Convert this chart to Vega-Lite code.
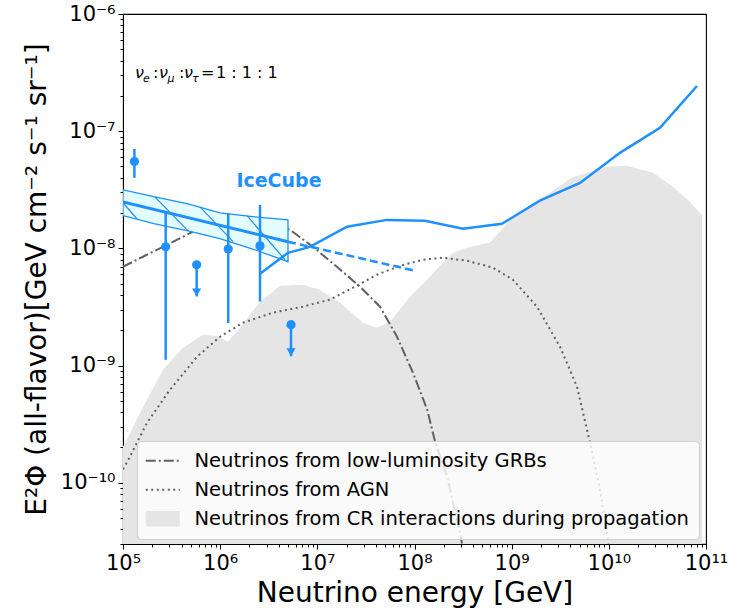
{
  "$schema": "https://vega.github.io/schema/vega-lite/v6.json",
  "width": 583,
  "height": 530,
  "autosize": {"type": "none"},
  "padding": {"left": 123, "top": 14, "right": 24, "bottom": 69},
  "background": "white",
  "config": {
    "font": "DejaVu Sans",
    "view": {"stroke": "#000000", "strokeWidth": 1.1},
    "axis": {"labelFont": "DejaVu Sans", "titleFont": "DejaVu Sans", "domainColor": "#000000", "tickColor": "#000000", "labelColor": "#000000", "titleColor": "#000000", "grid": false}
  },
  "datasets": {
    "cr": [
      {"e": 1e5, "f": 2.04e-10, "series": "Neutrinos from CR interactions during propagation"},
      {"e": 1.10e5, "f": 2.33e-10, "series": "Neutrinos from CR interactions during propagation"},
      {"e": 1.50e5, "f": 3.96e-10, "series": "Neutrinos from CR interactions during propagation"},
      {"e": 2.58e5, "f": 9.2e-10, "series": "Neutrinos from CR interactions during propagation"},
      {"e": 4.14e5, "f": 1.42e-9, "series": "Neutrinos from CR interactions during propagation"},
      {"e": 6.65e5, "f": 1.83e-9, "series": "Neutrinos from CR interactions during propagation"},
      {"e": 9.27e5, "f": 1.80e-9, "series": "Neutrinos from CR interactions during propagation"},
      {"e": 1.20e6, "f": 1.60e-9, "series": "Neutrinos from CR interactions during propagation"},
      {"e": 1.60e6, "f": 2.10e-9, "series": "Neutrinos from CR interactions during propagation"},
      {"e": 2.57e6, "f": 3.51e-9, "series": "Neutrinos from CR interactions during propagation"},
      {"e": 4.13e6, "f": 4.80e-9, "series": "Neutrinos from CR interactions during propagation"},
      {"e": 7.11e6, "f": 4.89e-9, "series": "Neutrinos from CR interactions during propagation"},
      {"e": 1.06e7, "f": 4.44e-9, "series": "Neutrinos from CR interactions during propagation"},
      {"e": 1.71e7, "f": 3.44e-9, "series": "Neutrinos from CR interactions during propagation"},
      {"e": 2.95e7, "f": 2.32e-9, "series": "Neutrinos from CR interactions during propagation"},
      {"e": 4.11e7, "f": 2.10e-9, "series": "Neutrinos from CR interactions during propagation"},
      {"e": 5.60e7, "f": 2.37e-9, "series": "Neutrinos from CR interactions during propagation"},
      {"e": 9.0e7, "f": 3.86e-9, "series": "Neutrinos from CR interactions during propagation"},
      {"e": 1.35e8, "f": 5.40e-9, "series": "Neutrinos from CR interactions during propagation"},
      {"e": 1.83e8, "f": 7.11e-9, "series": "Neutrinos from CR interactions during propagation"},
      {"e": 2.49e8, "f": 9.17e-9, "series": "Neutrinos from CR interactions during propagation"},
      {"e": 3.47e8, "f": 1.01e-8, "series": "Neutrinos from CR interactions during propagation"},
      {"e": 5.98e8, "f": 1.12e-8, "series": "Neutrinos from CR interactions during propagation"},
      {"e": 7.59e8, "f": 1.39e-8, "series": "Neutrinos from CR interactions during propagation"},
      {"e": 9.62e8, "f": 1.75e-8, "series": "Neutrinos from CR interactions during propagation"},
      {"e": 1.95e9, "f": 2.60e-8, "series": "Neutrinos from CR interactions during propagation"},
      {"e": 4.28e9, "f": 4.07e-8, "series": "Neutrinos from CR interactions during propagation"},
      {"e": 9.57e9, "f": 4.96e-8, "series": "Neutrinos from CR interactions during propagation"},
      {"e": 1.54e10, "f": 5.06e-8, "series": "Neutrinos from CR interactions during propagation"},
      {"e": 2.84e10, "f": 4.41e-8, "series": "Neutrinos from CR interactions during propagation"},
      {"e": 4.57e10, "f": 3.35e-8, "series": "Neutrinos from CR interactions during propagation"},
      {"e": 6.84e10, "f": 2.49e-8, "series": "Neutrinos from CR interactions during propagation"},
      {"e": 9.10e10, "f": 1.93e-8, "series": "Neutrinos from CR interactions during propagation"}
    ],
    "grb": [
      {"e": 1e5, "f": 6.97e-9, "series": "Neutrinos from low-luminosity GRBs"},
      {"e": 1.68e5, "f": 8.65e-9, "series": "Neutrinos from low-luminosity GRBs"},
      {"e": 2.84e5, "f": 1.07e-8, "series": "Neutrinos from low-luminosity GRBs"},
      {"e": 5.25e5, "f": 1.39e-8, "series": "Neutrinos from low-luminosity GRBs"},
      {"e": 8.85e5, "f": 1.59e-8, "series": "Neutrinos from low-luminosity GRBs"},
      {"e": 1.60e6, "f": 1.69e-8, "series": "Neutrinos from low-luminosity GRBs"},
      {"e": 2.89e6, "f": 1.65e-8, "series": "Neutrinos from low-luminosity GRBs"},
      {"e": 5.24e6, "f": 1.44e-8, "series": "Neutrinos from low-luminosity GRBs"},
      {"e": 9.02e6, "f": 1.03e-8, "series": "Neutrinos from low-luminosity GRBs"},
      {"e": 1.59e7, "f": 6.97e-9, "series": "Neutrinos from low-luminosity GRBs"},
      {"e": 2.75e7, "f": 4.71e-9, "series": "Neutrinos from low-luminosity GRBs"},
      {"e": 4.42e7, "f": 3.18e-9, "series": "Neutrinos from low-luminosity GRBs"},
      {"e": 6.61e7, "f": 1.76e-9, "series": "Neutrinos from low-luminosity GRBs"},
      {"e": 9.64e7, "f": 8.69e-10, "series": "Neutrinos from low-luminosity GRBs"},
      {"e": 1.35e8, "f": 4.21e-10, "series": "Neutrinos from low-luminosity GRBs"},
      {"e": 1.63e8, "f": 2.24e-10, "series": "Neutrinos from low-luminosity GRBs"},
      {"e": 2.16e8, "f": 1.13e-10, "series": "Neutrinos from low-luminosity GRBs"},
      {"e": 2.94e8, "f": 3.76e-11, "series": "Neutrinos from low-luminosity GRBs"},
      {"e": 3.08e8, "f": 3.03e-11, "series": "Neutrinos from low-luminosity GRBs"}
    ],
    "agn": [
      {"e": 1e5, "f": 1.30e-10, "series": "Neutrinos from AGN"},
      {"e": 1.18e5, "f": 1.67e-10, "series": "Neutrinos from AGN"},
      {"e": 1.77e5, "f": 3.26e-10, "series": "Neutrinos from AGN"},
      {"e": 3.05e5, "f": 6.23e-10, "series": "Neutrinos from AGN"},
      {"e": 5.78e5, "f": 1.19e-9, "series": "Neutrinos from AGN"},
      {"e": 9.95e5, "f": 1.76e-9, "series": "Neutrinos from AGN"},
      {"e": 1.72e6, "f": 2.32e-9, "series": "Neutrinos from AGN"},
      {"e": 3.50e6, "f": 2.83e-9, "series": "Neutrinos from AGN"},
      {"e": 7.11e6, "f": 3.18e-9, "series": "Neutrinos from AGN"},
      {"e": 1.35e7, "f": 3.65e-9, "series": "Neutrinos from AGN"},
      {"e": 2.33e7, "f": 4.62e-9, "series": "Neutrinos from AGN"},
      {"e": 4.11e7, "f": 5.96e-9, "series": "Neutrinos from AGN"},
      {"e": 7.10e7, "f": 7.11e-9, "series": "Neutrinos from AGN"},
      {"e": 1.22e8, "f": 8.0e-9, "series": "Neutrinos from AGN"},
      {"e": 1.96e8, "f": 8.32e-9, "series": "Neutrinos from AGN"},
      {"e": 3.47e8, "f": 7.84e-9, "series": "Neutrinos from AGN"},
      {"e": 6.43e8, "f": 6.84e-9, "series": "Neutrinos from AGN"},
      {"e": 1.03e9, "f": 5.40e-9, "series": "Neutrinos from AGN"},
      {"e": 1.82e9, "f": 3.18e-9, "series": "Neutrinos from AGN"},
      {"e": 3.14e9, "f": 1.45e-9, "series": "Neutrinos from AGN"},
      {"e": 4.70e9, "f": 6.61e-10, "series": "Neutrinos from AGN"},
      {"e": 6.40e9, "f": 2.20e-10, "series": "Neutrinos from AGN"},
      {"e": 8.11e9, "f": 8.75e-11, "series": "Neutrinos from AGN"},
      {"e": 1.0e10, "f": 3.03e-11, "series": "Neutrinos from AGN"}
    ],
    "band": [
      {"e": 1e5, "f": 3.16e-8, "f2": 1.90e-8},
      {"e": 2.13e5, "f": 2.75e-8, "f2": 1.62e-8},
      {"e": 4.67e5, "f": 2.40e-8, "f2": 1.41e-8},
      {"e": 9.95e5, "f": 2.01e-8, "f2": 1.21e-8},
      {"e": 2.28e6, "f": 1.86e-8, "f2": 9.73e-9},
      {"e": 4.99e6, "f": 1.75e-8, "f2": 7.69e-9}
    ],
    "hatch": [
      {"e": 1e5, "f": 2.45e-8, "e2": 1.39e5, "f2": 1.79e-8},
      {"e": 2.13e5, "f": 2.75e-8, "e2": 4.67e5, "f2": 1.41e-8},
      {"e": 6.19e5, "f": 2.26e-8, "e2": 1.36e6, "f2": 1.14e-8},
      {"e": 1.89e6, "f": 1.90e-8, "e2": 4.65e6, "f2": 8.0e-9}
    ],
    "fit": [
      {"e": 1e5, "f": 2.49e-8},
      {"e": 4.99e6, "f": 1.14e-8}
    ],
    "fitext": [
      {"e": 4.99e6, "f": 1.14e-8},
      {"e": 1.01e8, "f": 6.44e-9}
    ],
    "ul": [
      {"e": 2.57e6, "f": 6.07e-9},
      {"e": 4.99e6, "f": 9.17e-9},
      {"e": 8.39e6, "f": 1.03e-8},
      {"e": 2.02e7, "f": 1.53e-8},
      {"e": 5.21e7, "f": 1.75e-8},
      {"e": 1.28e8, "f": 1.72e-8},
      {"e": 3.16e8, "f": 1.47e-8},
      {"e": 7.94e8, "f": 1.62e-8},
      {"e": 1.95e9, "f": 2.55e-8},
      {"e": 5.05e9, "f": 3.62e-8},
      {"e": 1.30e10, "f": 6.53e-8},
      {"e": 3.36e10, "f": 1.07e-7},
      {"e": 8.07e10, "f": 2.43e-7}
    ],
    "pts": [
      {"e": 1.31e5, "f": 5.5e-8},
      {"e": 2.75e5, "f": 1.03e-8},
      {"e": 5.73e5, "f": 7.24e-9},
      {"e": 1.21e6, "f": 9.86e-9},
      {"e": 2.57e6, "f": 1.05e-8},
      {"e": 5.36e6, "f": 2.23e-9}
    ],
    "errbars": [
      {"e": 1.31e5, "f": 7.06e-8, "f2": 4.0e-8},
      {"e": 2.75e5, "f": 2.06e-8, "f2": 1.12e-9},
      {"e": 1.21e6, "f": 2.0e-8, "f2": 2.31e-9},
      {"e": 2.57e6, "f": 2.35e-8, "f2": 3.52e-9},
      {"e": 5.73e5, "f": 7.24e-9, "f2": 3.89e-9},
      {"e": 5.36e6, "f": 2.23e-9, "f2": 1.2e-9}
    ],
    "heads": [
      {"e": 5.73e5, "f": 3.89e-9},
      {"e": 5.36e6, "f": 1.2e-9}
    ],
    "labels": [
      {"e": 4.03e6, "f": 3.77e-8, "text": "IceCube"}
    ],
    "ratio_nu": [
      {"e": 1.33e5, "f": 3.14e-7, "text": "ν"},
      {"e": 2.347e5, "f": 3.14e-7, "text": "ν"},
      {"e": 4.243e5, "f": 3.14e-7, "text": "ν"}
    ],
    "ratio_ops": [
      {"e": 2.035e5, "f": 3.14e-7, "text": ":"},
      {"e": 3.77e5, "f": 3.14e-7, "text": ":"},
      {"e": 6.35e5, "f": 3.14e-7, "text": "="},
      {"e": 9.06e5, "f": 3.14e-7, "text": "1 : 1 : 1"}
    ],
    "ratio_sub": [
      {"e": 1.606e5, "f": 2.79e-7, "text": "e"},
      {"e": 2.871e5, "f": 2.79e-7, "text": "μ"},
      {"e": 5.13e5, "f": 2.79e-7, "text": "τ"}
    ]
  },
  "encoding": {
    "x": {"field": "e", "type": "quantitative", "scale": {"type": "log", "domain": [1e5, 1e11], "nice": false},
      "axis": {
        "title": "Neutrino energy [GeV]", "titleFontSize": 28, "titleFontWeight": "normal", "titlePadding": 6,
        "labelFontSize": 21, "labelPadding": 3, "labelOverlap": false, "labelFlush": false,
        "values": [1e5,2e5,3e5,4e5,5e5,6e5,7e5,8e5,9e5,1e6,2e6,3e6,4e6,5e6,6e6,7e6,8e6,9e6,1e7,2e7,3e7,4e7,5e7,6e7,7e7,8e7,9e7,1e8,2e8,3e8,4e8,5e8,6e8,7e8,8e8,9e8,1e9,2e9,3e9,4e9,5e9,6e9,7e9,8e9,9e9,1e10,2e10,3e10,4e10,5e10,6e10,7e10,8e10,9e10,1e11],
        "labelExpr": "datum.value==1e5?'10⁵':datum.value==1e6?'10⁶':datum.value==1e7?'10⁷':datum.value==1e8?'10⁸':datum.value==1e9?'10⁹':datum.value==1e10?'10¹⁰':datum.value==1e11?'10¹¹':''",
        "tickSize": {"condition": {"test": "abs(log(datum.value)/LN10 - round(log(datum.value)/LN10)) < 0.0001", "value": 5}, "value": 3},
        "tickWidth": 1
      }
    },
    "y": {"field": "f", "type": "quantitative", "scale": {"type": "log", "domain": [3e-11, 1e-6], "nice": false},
      "axis": {
        "title": "E²Φ (all-flavor)[GeV cm⁻² s⁻¹ sr⁻¹]", "titleFontSize": 28, "titleFontWeight": "normal", "titlePadding": 9,
        "labelFontSize": 21, "labelPadding": 3, "labelOverlap": false, "labelFlush": false,
        "values": [3e-11,4e-11,5e-11,6e-11,7e-11,8e-11,9e-11,1e-10,2e-10,3e-10,4e-10,5e-10,6e-10,7e-10,8e-10,9e-10,1e-9,2e-9,3e-9,4e-9,5e-9,6e-9,7e-9,8e-9,9e-9,1e-8,2e-8,3e-8,4e-8,5e-8,6e-8,7e-8,8e-8,9e-8,1e-7,2e-7,3e-7,4e-7,5e-7,6e-7,7e-7,8e-7,9e-7,1e-6],
        "labelExpr": "datum.value==1e-6?'10⁻⁶':datum.value==1e-7?'10⁻⁷':datum.value==1e-8?'10⁻⁸':datum.value==1e-9?'10⁻⁹':datum.value==1e-10?'10⁻¹⁰':''",
        "tickSize": {"condition": {"test": "abs(log(datum.value)/LN10 - round(log(datum.value)/LN10)) < 0.0001", "value": 5}, "value": 3},
        "tickWidth": 1
      }
    }
  },
  "layer": [
    {
      "data": {"name": "cr"},
      "mark": {"type": "area", "clip": true},
      "encoding": {
        "y2": {"datum": 3e-11},
        "color": {"field": "series", "type": "nominal",
          "scale": {"domain": ["Neutrinos from low-luminosity GRBs", "Neutrinos from AGN", "Neutrinos from CR interactions during propagation"], "range": ["#606060", "#606060", "#e5e5e5"]},
          "legend": {
            "title": null, "orient": "none", "legendX": 14, "legendY": 427,
            "labelFontSize": 19.5, "labelFont": "DejaVu Sans", "labelColor": "#000000", "labelOffset": 22, "labelLimit": 700,
            "symbolType": "stroke", "symbolSize": 1156, "symbolOffset": 6, "rowPadding": 8,
            "fillColor": "rgba(255,255,255,0.8)", "strokeColor": "#d0d0d0", "cornerRadius": 4, "padding": 10,
            "encode": {
              "symbols": {"update": {
                "shape": {"signal": "datum.label == 'Neutrinos from CR interactions during propagation' ? 'M-1,-0.45H1V0.45H-1Z' : 'stroke'"},
                "fill": {"signal": "datum.label == 'Neutrinos from CR interactions during propagation' ? '#e5e5e5' : 'transparent'"},
                "stroke": {"signal": "datum.label == 'Neutrinos from CR interactions during propagation' ? 'transparent' : '#606060'"},
                "strokeWidth": {"signal": "datum.label == 'Neutrinos from CR interactions during propagation' ? 0 : 2"},
                "strokeDash": {"signal": "datum.label == 'Neutrinos from low-luminosity GRBs' ? [10,3,2,3] : datum.label == 'Neutrinos from AGN' ? [2,3.5] : [1,0]"},
                "opacity": {"value": 1}
              }}
            }
          }
        }
      }
    },
    {
      "data": {"name": "grb"},
      "mark": {"type": "line", "clip": true, "strokeWidth": 2, "strokeDash": [10, 3, 2, 3]},
      "encoding": {
        "color": {"field": "series", "type": "nominal"}
      }
    },
    {
      "data": {"name": "agn"},
      "mark": {"type": "line", "clip": true, "strokeWidth": 2, "strokeDash": [2, 3.5]},
      "encoding": {
        "color": {"field": "series", "type": "nominal"}
      }
    },
    {
      "data": {"name": "band"},
      "mark": {"type": "area", "clip": true, "fill": "#e3fdff", "stroke": "#1e90ff", "strokeWidth": 1.3},
      "encoding": {
        "y2": {"field": "f2"}
      }
    },
    {
      "data": {"name": "hatch"},
      "mark": {"type": "rule", "clip": true, "color": "#1e90ff", "strokeWidth": 1.2},
      "encoding": {
        "x2": {"field": "e2"},
        "y2": {"field": "f2"}
      }
    },
    {
      "data": {"name": "fit"},
      "mark": {"type": "line", "clip": true, "color": "#1e90ff", "strokeWidth": 3},
      "encoding": {}
    },
    {
      "data": {"name": "fitext"},
      "mark": {"type": "line", "clip": true, "color": "#1e90ff", "strokeWidth": 2.5, "strokeDash": [8, 4]},
      "encoding": {}
    },
    {
      "data": {"name": "ul"},
      "mark": {"type": "line", "clip": true, "color": "#1e90ff", "strokeWidth": 2.5},
      "encoding": {}
    },
    {
      "data": {"name": "errbars"},
      "mark": {"type": "rule", "clip": true, "color": "#1e90ff", "strokeWidth": 2.5},
      "encoding": {
        "y2": {"field": "f2"}
      }
    },
    {
      "data": {"name": "heads"},
      "mark": {"type": "point", "clip": true, "filled": true, "color": "#1e90ff", "opacity": 1, "size": 100, "shape": "M-0.9,-1.6L0.9,-1.6L0,0Z"},
      "encoding": {}
    },
    {
      "data": {"name": "pts"},
      "mark": {"type": "circle", "clip": true, "color": "#1e90ff", "opacity": 1, "size": 85},
      "encoding": {}
    },
    {
      "data": {"name": "labels"},
      "mark": {"type": "text", "color": "#1e90ff", "fontSize": 19, "fontWeight": "bold", "font": "DejaVu Sans", "align": "center", "baseline": "middle"},
      "encoding": {
        "text": {"field": "text"}
      }
    },
    {
      "data": {"name": "ratio_nu"},
      "mark": {"type": "text", "color": "#000000", "fontSize": 16, "fontStyle": "italic", "font": "DejaVu Sans", "align": "left", "baseline": "middle"},
      "encoding": {
        "text": {"field": "text"}
      }
    },
    {
      "data": {"name": "ratio_ops"},
      "mark": {"type": "text", "color": "#000000", "fontSize": 16, "font": "DejaVu Sans", "align": "left", "baseline": "middle"},
      "encoding": {
        "text": {"field": "text"}
      }
    },
    {
      "data": {"name": "ratio_sub"},
      "mark": {"type": "text", "color": "#000000", "fontSize": 11, "fontStyle": "italic", "font": "DejaVu Sans", "align": "left", "baseline": "middle"},
      "encoding": {
        "text": {"field": "text"}
      }
    }
  ]
}
